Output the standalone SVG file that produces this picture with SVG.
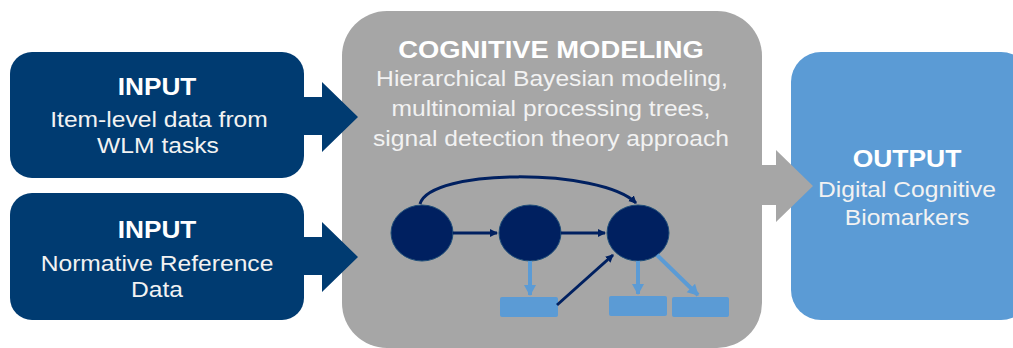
<svg xmlns="http://www.w3.org/2000/svg" width="1013" height="348" viewBox="0 0 1013 348">
  <defs>
    <style>
      .dark { fill: #003B71; }
      .gray { fill: #A6A6A6; }
      .light { fill: #5B9BD5; }
      .node { fill: #002060; stroke: #1F4E79; stroke-width: 1; }
      .title { font-family: "Liberation Sans", Arial, sans-serif; font-weight: bold; font-size: 23px; fill: #FFFFFF; text-anchor: middle; }
      .body { font-family: "Liberation Sans", Arial, sans-serif; font-size: 22px; fill: #F2F2F2; text-anchor: middle; }
      .dline { stroke: #002060; stroke-width: 3; fill: none; }
      .lline { stroke: #5B9BD5; stroke-width: 4; fill: none; }
    </style>
    <marker id="ahDark" markerWidth="10" markerHeight="10" refX="7" refY="4" orient="auto" markerUnits="userSpaceOnUse">
      <path d="M0,0 L8,4 L0,8 Z" fill="#002060"/>
    </marker>
    <marker id="ahLight" markerWidth="14" markerHeight="14" refX="10" refY="6" orient="auto" markerUnits="userSpaceOnUse">
      <path d="M0,0 L11,6 L0,12 Z" fill="#5B9BD5"/>
    </marker>
  </defs>

  <rect width="1013" height="348" fill="#FFFFFF"/>

  <g id="cognitive-modeling">
    <rect class="gray" x="342" y="11" width="420" height="337" rx="45" ry="45"/>
    <text class="title" transform="translate(551,58) scale(1.19,1)">COGNITIVE MODELING</text>
    <text class="body" transform="translate(552,86) scale(1.12,1)">Hierarchical Bayesian modeling,</text>
    <text class="body" transform="translate(551,116) scale(1.12,1)">multinomial processing trees,</text>
    <text class="body" transform="translate(551,146) scale(1.12,1)">signal detection theory approach</text>
  </g>

  <g id="output">
    <rect class="light" x="791" y="52" width="240" height="268" rx="30" ry="30"/>
    <text class="title" transform="translate(907,167) scale(1.15,1)">OUTPUT</text>
    <text class="body" transform="translate(907,197) scale(1.12,1)">Digital Cognitive</text>
    <text class="body" transform="translate(907,225) scale(1.12,1)">Biomarkers</text>
  </g>

  <g id="input-1">
    <rect class="dark" x="10" y="52" width="294" height="126" rx="22" ry="22"/>
    <path class="dark" d="M300,97 L322,97 L322,82 L358,117 L322,152 L322,135 L300,135 Z"/>
    <text class="title" transform="translate(157,95) scale(1.14,1)">INPUT</text>
    <text class="body" transform="translate(159,127) scale(1.12,1)">Item-level data from</text>
    <text class="body" transform="translate(158,153) scale(1.12,1)">WLM tasks</text>
  </g>

  <g id="input-2">
    <rect class="dark" x="10" y="193" width="294" height="127" rx="22" ry="22"/>
    <path class="dark" d="M300,237 L322,237 L322,222 L358,257 L322,292 L322,275 L300,275 Z"/>
    <text class="title" transform="translate(157,238) scale(1.14,1)">INPUT</text>
    <text class="body" transform="translate(157,271) scale(1.12,1)">Normative Reference</text>
    <text class="body" transform="translate(157,297) scale(1.12,1)">Data</text>
  </g>

  <g id="gray-arrow">
    <path class="gray" d="M758,165 L776,165 L776,150 L813,186 L776,222 L776,205 L758,205 Z"/>
  </g>

  <g id="network-nodes">
    <ellipse id="n1" class="node" cx="422" cy="233" rx="31" ry="28"/>
    <ellipse id="n2" class="node" cx="530" cy="233" rx="31" ry="28"/>
    <ellipse id="n3" class="node" cx="638" cy="233" rx="31" ry="28"/>
    <rect id="r1" class="light" x="500" y="297" width="58" height="20" rx="2"/>
    <rect id="r2" class="light" x="609" y="296" width="58" height="20" rx="2"/>
    <rect id="r3" class="light" x="672" y="297" width="57" height="20" rx="2"/>
  </g>

  <g id="connectors">
    <line class="dline" x1="453" y1="233" x2="497" y2="233" marker-end="url(#ahDark)"/>
    <line class="dline" x1="561" y1="233" x2="605" y2="233" marker-end="url(#ahDark)"/>
    <path class="dline" d="M420,204 C430,168 600,168 636,203" marker-end="url(#ahDark)"/>
    <line class="dline" x1="557" y1="305" x2="613" y2="255" marker-end="url(#ahDark)"/>
    <line class="lline" x1="530" y1="261" x2="530" y2="295" marker-end="url(#ahLight)"/>
    <line class="lline" x1="638" y1="261" x2="638" y2="294" marker-end="url(#ahLight)"/>
    <line class="lline" x1="657" y1="255" x2="698" y2="295" marker-end="url(#ahLight)"/>
  </g>
</svg>
